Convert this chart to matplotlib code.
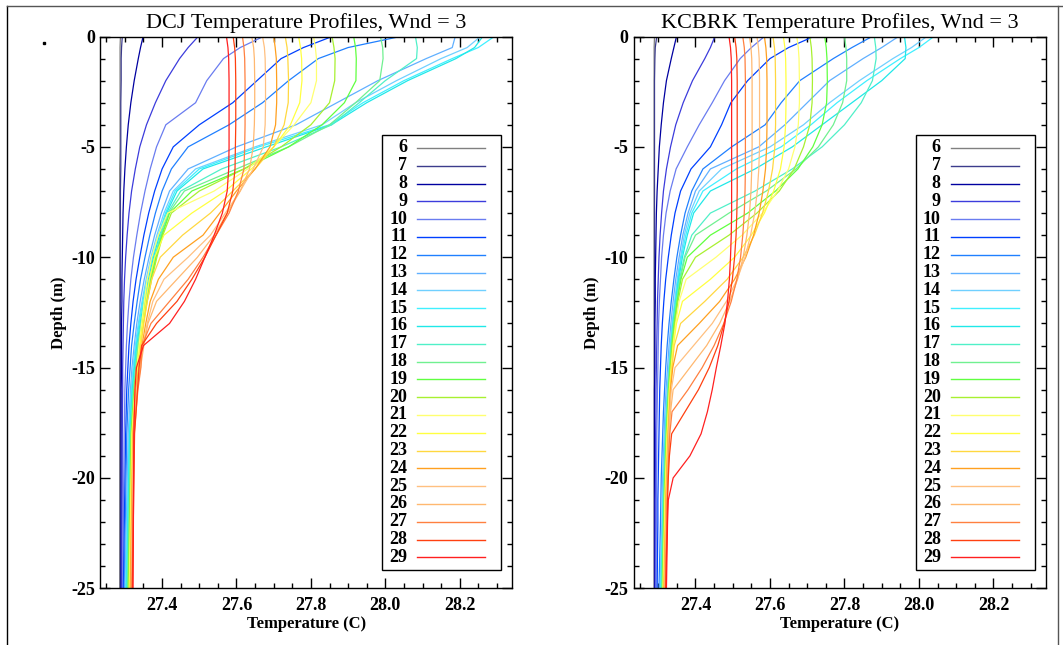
import numpy as np
import matplotlib
matplotlib.use("Agg")
import matplotlib.pyplot as plt
from matplotlib.patches import Rectangle
from matplotlib.lines import Line2D
from matplotlib.ticker import MultipleLocator

plt.rcParams['font.family'] = ['Liberation Serif', 'DejaVu Serif']
plt.rcParams['axes.unicode_minus'] = False

hours = list(range(6, 30))
colors = ['#808080', '#3c3c8c', '#0000a0', '#3c3cdc', '#6a7cf0', '#0040ff',
          '#2080ff', '#60b0ff', '#70d0ff', '#40f0ff', '#20e8e8', '#50f0c8',
          '#70f090', '#60ff40', '#a8f030', '#ffff70', '#ffff40', '#ffd840',
          '#ffa020', '#ffc080', '#ffb870', '#ff8040', '#ff4010', '#ff2020']

# DCJ model levels (m) and temperature per hour
dcj_depth = [0, -0.5, -1, -2, -3, -4, -5, -6, -7, -8, -9, -10, -11, -12, -13, -14, -15, -16, -18, -25]
dcj_temp = [
    [27.288, 27.287, 27.287, 27.287, 27.287, 27.287, 27.287, 27.286, 27.286, 27.286, 27.286, 27.286, 27.286, 27.286, 27.286, 27.286, 27.286, 27.286, 27.286, 27.286],
    [27.293, 27.291, 27.290, 27.290, 27.289, 27.289, 27.289, 27.289, 27.288, 27.288, 27.288, 27.288, 27.288, 27.288, 27.288, 27.288, 27.288, 27.288, 27.288, 27.288],
    [27.349, 27.342, 27.336, 27.325, 27.316, 27.309, 27.304, 27.300, 27.297, 27.295, 27.294, 27.293, 27.292, 27.292, 27.291, 27.291, 27.291, 27.290, 27.290, 27.290],
    [27.497, 27.470, 27.447, 27.410, 27.382, 27.358, 27.340, 27.328, 27.318, 27.311, 27.306, 27.302, 27.299, 27.297, 27.296, 27.295, 27.294, 27.294, 27.293, 27.292],
    [27.672, 27.610, 27.565, 27.520, 27.490, 27.410, 27.385, 27.368, 27.354, 27.342, 27.332, 27.323, 27.316, 27.311, 27.307, 27.304, 27.302, 27.300, 27.298, 27.294],
    [27.857, 27.780, 27.720, 27.655, 27.590, 27.500, 27.430, 27.400, 27.380, 27.364, 27.351, 27.340, 27.330, 27.322, 27.316, 27.311, 27.308, 27.305, 27.302, 27.296],
    [28.040, 27.900, 27.820, 27.740, 27.670, 27.580, 27.470, 27.425, 27.400, 27.382, 27.367, 27.354, 27.342, 27.333, 27.325, 27.318, 27.314, 27.310, 27.305, 27.298],
    [28.188, 28.180, 28.110, 27.980, 27.870, 27.760, 27.600, 27.470, 27.420, 27.398, 27.380, 27.365, 27.352, 27.341, 27.332, 27.325, 27.319, 27.315, 27.309, 27.300],
    [28.256, 28.220, 28.150, 28.030, 27.920, 27.830, 27.650, 27.490, 27.430, 27.405, 27.386, 27.370, 27.357, 27.346, 27.336, 27.328, 27.322, 27.317, 27.311, 27.302],
    [28.293, 28.250, 28.180, 28.050, 27.940, 27.850, 27.660, 27.500, 27.435, 27.409, 27.390, 27.374, 27.360, 27.348, 27.338, 27.330, 27.324, 27.319, 27.312, 27.303],
    [28.262, 28.240, 28.190, 28.060, 27.950, 27.855, 27.680, 27.510, 27.440, 27.412, 27.393, 27.377, 27.363, 27.351, 27.341, 27.332, 27.326, 27.320, 27.313, 27.305],
    [28.081, 28.086, 28.084, 28.000, 27.930, 27.856, 27.720, 27.560, 27.450, 27.415, 27.396, 27.380, 27.366, 27.354, 27.343, 27.334, 27.328, 27.322, 27.315, 27.306],
    [27.987, 27.993, 27.994, 27.985, 27.920, 27.850, 27.740, 27.600, 27.460, 27.418, 27.398, 27.382, 27.368, 27.356, 27.345, 27.336, 27.330, 27.324, 27.316, 27.308],
    [27.915, 27.920, 27.922, 27.921, 27.890, 27.830, 27.740, 27.620, 27.480, 27.420, 27.400, 27.384, 27.370, 27.358, 27.347, 27.338, 27.331, 27.325, 27.317, 27.309],
    [27.857, 27.862, 27.865, 27.864, 27.850, 27.800, 27.720, 27.620, 27.500, 27.425, 27.402, 27.386, 27.372, 27.360, 27.349, 27.340, 27.332, 27.326, 27.318, 27.310],
    [27.807, 27.812, 27.815, 27.815, 27.800, 27.755, 27.700, 27.630, 27.540, 27.415, 27.390, 27.372, 27.360, 27.352, 27.345, 27.338, 27.332, 27.327, 27.319, 27.312],
    [27.767, 27.772, 27.775, 27.776, 27.770, 27.745, 27.700, 27.640, 27.570, 27.480, 27.405, 27.380, 27.366, 27.356, 27.348, 27.341, 27.334, 27.328, 27.320, 27.313],
    [27.731, 27.736, 27.738, 27.740, 27.739, 27.728, 27.700, 27.650, 27.590, 27.530, 27.455, 27.395, 27.372, 27.360, 27.351, 27.343, 27.336, 27.329, 27.321, 27.314],
    [27.700, 27.704, 27.707, 27.708, 27.708, 27.705, 27.690, 27.650, 27.600, 27.555, 27.510, 27.430, 27.390, 27.368, 27.356, 27.346, 27.338, 27.330, 27.322, 27.315],
    [27.670, 27.675, 27.677, 27.678, 27.678, 27.677, 27.672, 27.645, 27.610, 27.570, 27.530, 27.470, 27.405, 27.375, 27.360, 27.349, 27.340, 27.331, 27.323, 27.317],
    [27.641, 27.646, 27.648, 27.649, 27.649, 27.648, 27.645, 27.635, 27.610, 27.575, 27.540, 27.495, 27.440, 27.385, 27.362, 27.351, 27.342, 27.333, 27.324, 27.318],
    [27.616, 27.620, 27.622, 27.623, 27.623, 27.623, 27.622, 27.620, 27.605, 27.580, 27.545, 27.510, 27.470, 27.420, 27.370, 27.346, 27.343, 27.335, 27.325, 27.319],
    [27.591, 27.595, 27.597, 27.598, 27.598, 27.598, 27.597, 27.596, 27.590, 27.575, 27.545, 27.515, 27.480, 27.440, 27.385, 27.345, 27.338, 27.334, 27.326, 27.320],
    [27.573, 27.577, 27.579, 27.580, 27.580, 27.580, 27.580, 27.579, 27.575, 27.562, 27.540, 27.515, 27.490, 27.460, 27.420, 27.350, 27.331, 27.327, 27.324, 27.322],
]

# KCBRK model levels (m) and temperature per hour
kc_depth = [0, -0.5, -1, -2, -3, -4, -5, -6, -7, -8, -9, -10, -11, -12, -13, -14, -15, -16, -17, -18, -19, -20, -21, -22, -25]
kc_temp = [
    [27.290, 27.289, 27.289, 27.289, 27.289, 27.289, 27.289, 27.289, 27.289, 27.289, 27.289, 27.289, 27.289, 27.289, 27.289, 27.289, 27.289, 27.289, 27.289, 27.289, 27.289, 27.289, 27.289, 27.289, 27.289],
    [27.296, 27.292, 27.291, 27.290, 27.290, 27.290, 27.290, 27.290, 27.290, 27.290, 27.290, 27.290, 27.290, 27.290, 27.290, 27.290, 27.290, 27.290, 27.290, 27.290, 27.290, 27.290, 27.290, 27.290, 27.290],
    [27.349, 27.342, 27.335, 27.322, 27.314, 27.308, 27.303, 27.300, 27.297, 27.295, 27.294, 27.293, 27.292, 27.292, 27.291, 27.291, 27.291, 27.290, 27.290, 27.290, 27.290, 27.290, 27.290, 27.290, 27.290],
    [27.452, 27.440, 27.425, 27.392, 27.367, 27.347, 27.333, 27.322, 27.314, 27.309, 27.305, 27.302, 27.300, 27.298, 27.297, 27.296, 27.295, 27.294, 27.294, 27.293, 27.293, 27.293, 27.292, 27.292, 27.292],
    [27.585, 27.550, 27.520, 27.478, 27.445, 27.410, 27.378, 27.348, 27.332, 27.321, 27.314, 27.309, 27.306, 27.303, 27.301, 27.300, 27.299, 27.298, 27.297, 27.296, 27.296, 27.295, 27.295, 27.295, 27.294],
    [27.717, 27.650, 27.600, 27.540, 27.495, 27.470, 27.440, 27.388, 27.360, 27.345, 27.335, 27.327, 27.320, 27.315, 27.311, 27.308, 27.306, 27.304, 27.303, 27.302, 27.301, 27.300, 27.299, 27.299, 27.297],
    [27.874, 27.820, 27.770, 27.680, 27.630, 27.587, 27.497, 27.420, 27.390, 27.372, 27.360, 27.350, 27.342, 27.335, 27.329, 27.324, 27.320, 27.317, 27.314, 27.312, 27.310, 27.308, 27.307, 27.306, 27.302],
    [27.945, 27.900, 27.850, 27.760, 27.700, 27.640, 27.570, 27.440, 27.400, 27.380, 27.366, 27.356, 27.347, 27.340, 27.334, 27.329, 27.325, 27.321, 27.318, 27.316, 27.314, 27.312, 27.311, 27.310, 27.305],
    [28.021, 27.980, 27.930, 27.840, 27.760, 27.690, 27.600, 27.470, 27.410, 27.385, 27.370, 27.360, 27.351, 27.344, 27.337, 27.332, 27.328, 27.324, 27.321, 27.318, 27.316, 27.314, 27.312, 27.311, 27.306],
    [28.040, 28.000, 27.950, 27.860, 27.780, 27.710, 27.630, 27.510, 27.420, 27.390, 27.374, 27.362, 27.353, 27.346, 27.339, 27.334, 27.330, 27.326, 27.322, 27.319, 27.317, 27.315, 27.313, 27.312, 27.307],
    [27.961, 27.965, 27.963, 27.900, 27.820, 27.740, 27.660, 27.560, 27.440, 27.395, 27.378, 27.365, 27.355, 27.347, 27.340, 27.335, 27.331, 27.327, 27.323, 27.320, 27.318, 27.316, 27.314, 27.313, 27.308],
    [27.880, 27.884, 27.885, 27.875, 27.845, 27.800, 27.740, 27.660, 27.560, 27.440, 27.390, 27.370, 27.357, 27.348, 27.341, 27.335, 27.330, 27.326, 27.323, 27.320, 27.318, 27.316, 27.314, 27.313, 27.309],
    [27.800, 27.804, 27.806, 27.806, 27.795, 27.770, 27.730, 27.670, 27.590, 27.490, 27.400, 27.372, 27.359, 27.350, 27.342, 27.336, 27.331, 27.327, 27.324, 27.321, 27.319, 27.317, 27.315, 27.314, 27.310],
    [27.747, 27.751, 27.753, 27.754, 27.752, 27.740, 27.715, 27.675, 27.615, 27.540, 27.440, 27.378, 27.361, 27.351, 27.343, 27.337, 27.332, 27.328, 27.325, 27.322, 27.320, 27.318, 27.316, 27.315, 27.311],
    [27.707, 27.711, 27.713, 27.714, 27.713, 27.707, 27.690, 27.665, 27.625, 27.565, 27.490, 27.400, 27.365, 27.353, 27.345, 27.338, 27.333, 27.329, 27.326, 27.323, 27.321, 27.319, 27.317, 27.316, 27.312],
    [27.672, 27.676, 27.678, 27.679, 27.679, 27.676, 27.667, 27.650, 27.620, 27.580, 27.525, 27.455, 27.375, 27.356, 27.347, 27.340, 27.335, 27.330, 27.327, 27.324, 27.322, 27.320, 27.318, 27.317, 27.313],
    [27.636, 27.640, 27.642, 27.643, 27.643, 27.642, 27.638, 27.628, 27.610, 27.585, 27.550, 27.505, 27.440, 27.365, 27.349, 27.341, 27.336, 27.331, 27.328, 27.325, 27.323, 27.321, 27.319, 27.318, 27.314],
    [27.608, 27.612, 27.614, 27.615, 27.615, 27.615, 27.613, 27.607, 27.596, 27.580, 27.558, 27.528, 27.485, 27.425, 27.360, 27.343, 27.337, 27.332, 27.329, 27.326, 27.324, 27.322, 27.320, 27.319, 27.315],
    [27.585, 27.589, 27.591, 27.592, 27.592, 27.592, 27.591, 27.588, 27.581, 27.571, 27.556, 27.535, 27.505, 27.465, 27.410, 27.352, 27.339, 27.333, 27.330, 27.327, 27.325, 27.323, 27.321, 27.320, 27.316],
    [27.565, 27.569, 27.571, 27.572, 27.572, 27.572, 27.572, 27.570, 27.566, 27.559, 27.548, 27.533, 27.512, 27.483, 27.445, 27.395, 27.345, 27.335, 27.331, 27.328, 27.326, 27.324, 27.322, 27.321, 27.317],
    [27.545, 27.549, 27.551, 27.552, 27.552, 27.552, 27.552, 27.551, 27.549, 27.545, 27.538, 27.528, 27.513, 27.492, 27.465, 27.430, 27.385, 27.340, 27.333, 27.329, 27.327, 27.325, 27.323, 27.322, 27.318],
    [27.527, 27.531, 27.533, 27.534, 27.534, 27.534, 27.534, 27.534, 27.533, 27.531, 27.527, 27.521, 27.511, 27.496, 27.476, 27.450, 27.418, 27.380, 27.337, 27.331, 27.328, 27.326, 27.324, 27.323, 27.319],
    [27.505, 27.509, 27.511, 27.512, 27.512, 27.512, 27.512, 27.512, 27.512, 27.511, 27.509, 27.505, 27.499, 27.490, 27.477, 27.460, 27.437, 27.408, 27.372, 27.336, 27.330, 27.327, 27.325, 27.324, 27.320],
    [27.490, 27.494, 27.496, 27.497, 27.497, 27.497, 27.497, 27.497, 27.497, 27.497, 27.496, 27.494, 27.491, 27.486, 27.479, 27.468, 27.456, 27.445, 27.432, 27.415, 27.385, 27.340, 27.327, 27.325, 27.322],
]

xticks = [27.4, 27.6, 27.8, 28.0, 28.2]
yticks = [0, -5, -10, -15, -20, -25]


def draw_key(ax):
    # boxed key: hour label on the left, line sample on the right
    ax.add_patch(Rectangle((0.685, 0.033), 0.288, 0.788, transform=ax.transAxes,
                           facecolor='white', edgecolor='black', lw=1.0, zorder=5))
    for i, h in enumerate(hours):
        y = 0.798 - i * 0.03226
        ax.text(0.745, y, str(h), transform=ax.transAxes, ha='right', va='center',
                fontsize=13, fontweight='bold', zorder=6)
        ax.add_line(Line2D([0.769, 0.934], [y, y], transform=ax.transAxes,
                           color=colors[i], lw=1.0, zorder=6))


def draw_panel(ax, depth, temps, title):
    for i, t in enumerate(temps):
        ax.plot(t, depth, color=colors[i], lw=0.9)
    ax.set_xlim(27.234, 28.341)
    ax.set_ylim(-25, 0)
    ax.set_xticks(xticks)
    ax.set_xticklabels(['%.1f' % v for v in xticks])
    ax.set_yticks(yticks)
    ax.set_yticklabels([str(v) for v in yticks])
    ax.xaxis.set_minor_locator(MultipleLocator(0.05))
    ax.yaxis.set_minor_locator(MultipleLocator(1))
    ax.tick_params(which='both', direction='in', top=True, right=True, width=1.0)
    ax.tick_params(which='major', length=7, labelsize=13)
    ax.tick_params(which='minor', length=3.5)
    ax.tick_params(axis='x', which='major', pad=6)
    ax.tick_params(axis='y', which='major', pad=4)
    for lab in ax.get_xticklabels() + ax.get_yticklabels():
        lab.set_fontweight('bold')
    for s in ax.spines.values():
        s.set_linewidth(1.0)
    ax.set_title(title, fontsize=16, pad=6)
    ax.set_xlabel('Temperature (C)', fontsize=12, fontweight='bold', labelpad=2)
    ax.set_ylabel('Depth (m)', fontsize=12, fontweight='bold', labelpad=3)
    draw_key(ax)


fig = plt.figure(figsize=(10.63, 6.45), dpi=100)
ax1 = fig.add_axes([0.0944, 0.0879, 0.3874, 0.8555])
ax2 = fig.add_axes([0.5961, 0.0879, 0.3879, 0.8555])

draw_panel(ax1, dcj_depth, dcj_temp, 'DCJ Temperature Profiles, Wnd = 3')
draw_panel(ax2, kc_depth, kc_temp, 'KCBRK Temperature Profiles, Wnd = 3')

# outer frame and stray dot seen in the original screenshot
fig.add_artist(Line2D([7.4 / 1063, 7.4 / 1063], [0, 1 - 6 / 645], color='black', lw=1.0))
fig.add_artist(Line2D([7.4 / 1063, 1], [1 - 6 / 645, 1 - 6 / 645], color='#555555', lw=1.0))
fig.add_artist(Line2D([1058 / 1063, 1058 / 1063], [0, 1 - 6 / 645], color='#555555', lw=1.0))
fig.add_artist(Line2D([44 / 1063], [1 - 43 / 645], marker='s', ms=1.5, color='black', lw=0))

fig.savefig('out.png', dpi=100)
